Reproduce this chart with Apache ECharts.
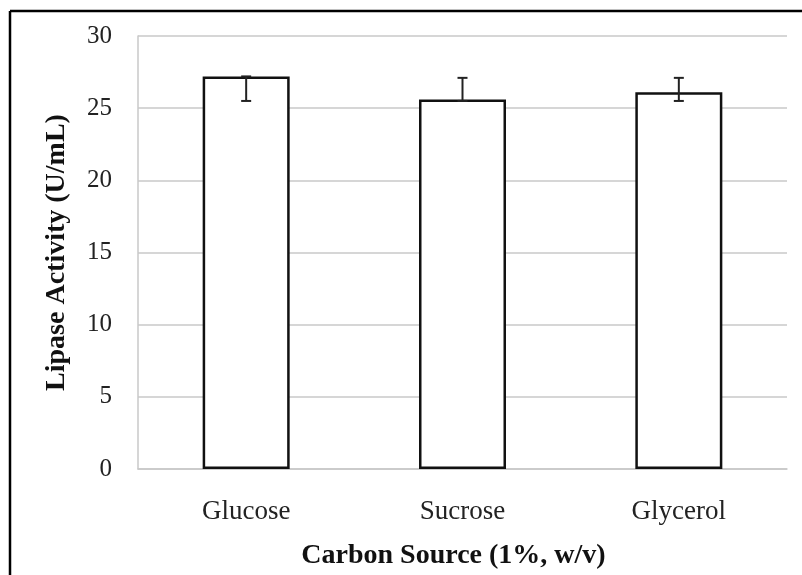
<!DOCTYPE html>
<html><head><meta charset="utf-8">
<script src="https://cdn.jsdelivr.net/npm/echarts@6/dist/echarts.min.js"></script>
<style>html,body{margin:0;padding:0;background:#fff}#c{width:802px;height:575px}</style>
</head><body><div id="c"></div>
<script>
const categories = ['Glucose', 'Sucrose', 'Glycerol'];
const activity = [27.2, 25.6, 26.1];
const errLow = [25.5, 25.5, 25.5];
const errHigh = [27.2, 27.1, 27.1];
const yTicks = [0, 5, 10, 15, 20, 25, 30];

const FONT = '"Liberation Serif", "DejaVu Serif", serif';
const chart = echarts.init(document.getElementById('c'), null, {renderer: 'canvas'});
chart.setOption({
  animation: false,
  backgroundColor: '#fff',
  grid: {left: 138, right: 15, top: 36, bottom: 104},
  graphic: [
    {type: 'line', shape: {x1: 10, y1: 11, x2: 802, y2: 11}, style: {stroke: '#000', lineWidth: 2.5}},
    {type: 'line', shape: {x1: 10, y1: 11, x2: 10, y2: 575}, style: {stroke: '#000', lineWidth: 2.5}}
  ],
  xAxis: {
    type: 'category', data: categories,
    axisLine: {lineStyle: {color: '#c8c8c8', width: 1.5}},
    axisTick: {show: false},
    axisLabel: {color: '#222', fontFamily: FONT, fontSize: 27, margin: 29},
    name: 'Carbon Source (1%, w/v)', nameLocation: 'middle', nameGap: 73,
    nameTextStyle: {color: '#111', fontFamily: FONT, fontSize: 28, fontWeight: 'bold', padding: [0, 18, 0, 0]}
  },
  yAxis: {
    type: 'value', min: yTicks[0], max: yTicks[yTicks.length - 1], interval: 5,
    axisLine: {show: true, lineStyle: {color: '#c8c8c8', width: 1.5}},
    axisTick: {show: false},
    splitLine: {lineStyle: {color: '#c8c8c8', width: 1.5}},
    axisLabel: {color: '#222', fontFamily: FONT, fontSize: 25, margin: 26},
    name: 'Lipase Activity (U/mL)', nameLocation: 'middle', nameGap: 67,
    nameTextStyle: {color: '#111', fontFamily: FONT, fontSize: 28, fontWeight: 'bold'}
  },
  series: [
    {
      type: 'bar', data: activity, barWidth: 87,
      itemStyle: {color: '#fff', borderColor: '#111', borderWidth: 2.5}
    },
    {
      type: 'custom',
      data: categories.map((c, i) => [i, errLow[i], errHigh[i]]),
      renderItem: function (params, api) {
        const lo = api.coord([api.value(0), api.value(1)]);
        const hi = api.coord([api.value(0), api.value(2)]);
        const w = 5;
        const st = {stroke: '#222', lineWidth: 2};
        return {type: 'group', children: [
          {type: 'line', shape: {x1: lo[0], y1: lo[1], x2: hi[0], y2: hi[1]}, style: st},
          {type: 'line', shape: {x1: lo[0] - w, y1: lo[1], x2: lo[0] + w, y2: lo[1]}, style: st},
          {type: 'line', shape: {x1: hi[0] - w, y1: hi[1], x2: hi[0] + w, y2: hi[1]}, style: st}
        ]};
      },
      z: 10
    }
  ]
});
</script></body></html>
